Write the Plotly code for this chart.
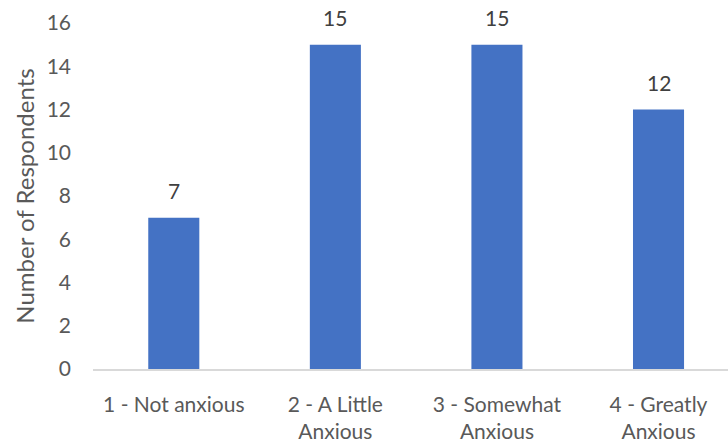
import plotly.graph_objects as go

categories = ["1 - Not anxious", "2 - A Little<br>Anxious", "3 - Somewhat<br>Anxious", "4 - Greatly<br>Anxious"]
respondents = [7, 15, 15, 12]
y_ticks = [0, 2, 4, 6, 8, 10, 12, 14, 16]

FONT = "Lato, 'Open Sans', sans-serif"
BAR = "#4472C4"
TICK_SIZE = 21

fig = go.Figure(
    go.Bar(
        x=list(range(len(categories))),
        y=respondents,
        width=0.316,
        marker=dict(color=BAR, line=dict(width=0)),
        hoverinfo="skip",
    )
)

# value labels above the bars
for i, v in enumerate(respondents):
    fig.add_annotation(
        x=i, y=v, text=str(v), showarrow=False, yshift=27,
        font=dict(family=FONT, size=TICK_SIZE, color="#404040"),
    )

fig.update_layout(
    width=728, height=443,
    margin=dict(l=93, r=0, t=23, b=71),
    paper_bgcolor="white", plot_bgcolor="white",
    showlegend=False,
    font=dict(family=FONT, size=TICK_SIZE, color="#595959"),
    xaxis=dict(
        range=[-0.5, 3.43],
        tickmode="array", tickvals=list(range(len(categories))), ticktext=categories,
        showgrid=False, zeroline=False,
        showline=True, linecolor="#D9D9D9", linewidth=1.5,
        ticks="", ticklabelstandoff=16,
        tickfont=dict(family=FONT, size=TICK_SIZE, color="#595959"),
    ),
    yaxis=dict(
        range=[0, 16], tickvals=y_ticks,
        showgrid=False, zeroline=False, showline=False,
        ticks="", ticklabelstandoff=21,
        tickfont=dict(family=FONT, size=TICK_SIZE, color="#595959"),
        title=dict(text="Number of Respondents", standoff=5,
                   font=dict(family=FONT, size=24, color="#595959")),
    ),
)

fig.write_html("out.html")
